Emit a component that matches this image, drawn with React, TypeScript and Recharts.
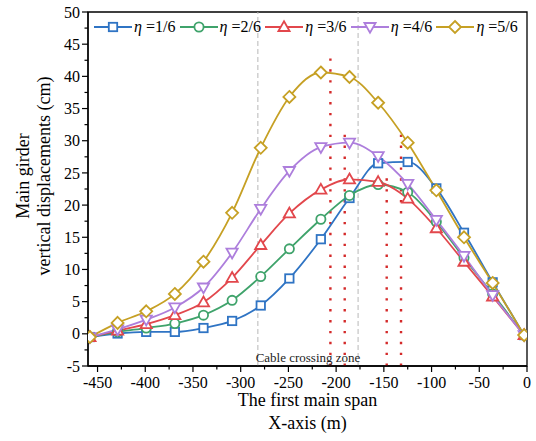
import { LineChart, Line, XAxis, YAxis, ReferenceLine, ReferenceArea, Label } from "recharts"

// distance along the first main span (m)
const xPos = [-458, -429, -399, -369, -339, -309, -279, -249, -216, -186, -156, -125, -95, -66, -36, -3]

// vertical displacement (cm) per cable ratio
const eta1 = [-0.5, 0.05, 0.3, 0.3, 0.9, 2.0, 4.4, 8.6, 14.7, 21.1, 26.5, 26.7, 22.6, 15.7, 8.0, -0.2]
const eta2 = [-0.5, 0.3, 0.9, 1.6, 2.9, 5.2, 8.9, 13.2, 17.8, 21.5, 23.2, 22.0, 17.4, 11.8, 6.2, -0.2]
const eta3 = [-0.5, 0.5, 1.5, 2.9, 4.9, 8.7, 13.8, 18.7, 22.4, 24.0, 23.6, 21.0, 16.4, 11.2, 5.8, -0.2]
const eta4 = [-0.5, 0.7, 2.2, 4.1, 7.2, 12.6, 19.4, 25.3, 29.0, 29.7, 27.6, 23.3, 17.7, 12.1, 6.0, -0.2]
const eta5 = [-0.5, 1.7, 3.5, 6.2, 11.2, 18.8, 28.9, 36.8, 40.6, 39.9, 35.9, 29.7, 22.3, 15.0, 7.9, -0.2]

const seriesNames = ["=1/6", "=2/6", "=3/6", "=4/6", "=5/6"]

// cable crossing zone bounds and peak markers
const zoneBounds = [-282, -177]
const peakX = [-206, -191, -147, -132]
const peakTop = [43.5, 31, 25, 31.2]

const xMajor = [-450, -400, -350, -300, -250, -200, -150, -100, -50, 0]
const yMajor = [-5, 0, 5, 10, 15, 20, 25, 30, 35, 40, 45, 50]

const xTicks = xMajor.flatMap((v, i) => (i < xMajor.length - 1 ? [v, v + 25] : [v]))
const yTicks = yMajor.flatMap((v, i) => (i < yMajor.length - 1 ? [v, v + 2.5] : [v]))

const data = xPos.map((x, i) => ({ x, e1: eta1[i], e2: eta2[i], e3: eta3[i], e4: eta4[i], e5: eta5[i] }))

const FONT = "'Liberation Serif', 'Times New Roman', serif"

const series = [
  { key: "e1", color: "#2F74C4", shape: "square" },
  { key: "e2", color: "#3FA36B", shape: "circle" },
  { key: "e3", color: "#E2474C", shape: "up" },
  { key: "e4", color: "#AD7EDC", shape: "down" },
  { key: "e5", color: "#C6A024", shape: "diamond" },
]

function markerShape(shape: string, cx: number, cy: number, color: string, key?: any) {
  const common = { fill: "#fff", stroke: color, strokeWidth: 1.8 }
  if (shape === "square") return <rect key={key} x={cx - 4.2} y={cy - 4.2} width={8.4} height={8.4} {...common} />
  if (shape === "circle") return <circle key={key} cx={cx} cy={cy} r={4.6} {...common} />
  if (shape === "up")
    return <polygon key={key} points={`${cx},${cy - 5.8} ${cx + 5.6},${cy + 4} ${cx - 5.6},${cy + 4}`} {...common} />
  if (shape === "down")
    return <polygon key={key} points={`${cx - 5.6},${cy - 4} ${cx + 5.6},${cy - 4} ${cx},${cy + 5.8}`} {...common} />
  return <polygon key={key} points={`${cx},${cy - 6} ${cx + 6},${cy} ${cx},${cy + 6} ${cx - 6},${cy}`} {...common} />
}

const YTick = (props: any) => {
  const { x, y, payload } = props
  const major = yMajor.includes(payload.value)
  return (
    <g>
      <line x1={x} x2={x - (major ? 6 : 3.5)} y1={y} y2={y} stroke="#000" strokeWidth={1.2} />
      {major && (
        <text x={x - 8} y={y} dy="0.35em" textAnchor="end" fontFamily={FONT} fontSize={16} fill="#000">
          {payload.value}
        </text>
      )}
    </g>
  )
}

const XTick = (props: any) => {
  const { x, y, payload } = props
  const major = xMajor.includes(payload.value)
  return (
    <g>
      <line x1={x} x2={x} y1={y} y2={y + (major ? 6 : 3.5)} stroke="#000" strokeWidth={1.2} />
      {major && (
        <text x={x} y={y + 22} textAnchor="middle" fontFamily={FONT} fontSize={16} fill="#000">
          {payload.value}
        </text>
      )}
    </g>
  )
}

const XTitle = (props: any) => {
  const { viewBox } = props
  const cx = viewBox.x + viewBox.width / 2
  return (
    <g fontFamily={FONT} fontSize={18} fill="#000">
      <text x={cx} y={viewBox.y + 40} textAnchor="middle">The first main span</text>
      <text x={cx} y={viewBox.y + 63} textAnchor="middle">X-axis (m)</text>
    </g>
  )
}

const YTitle = () => {
  const cy = 176
  return (
    <g fontFamily={FONT} fontSize={18} fill="#000">
      <text x={29} y={cy} textAnchor="middle" transform={`rotate(-90 29 ${cy})`}>Main girder</text>
      <text x={50} y={cy} textAnchor="middle" transform={`rotate(-90 50 ${cy})`}>vertical displacements (cm)</text>
    </g>
  )
}

function LegendRow() {
  return (
    <div
      style={{
        position: "absolute",
        left: 88,
        top: 13,
        width: 439,
        height: 30,
        fontFamily: FONT,
        fontSize: 16,
      }}
    >
      {series.map((s, i) => (
        <div key={s.key} style={{ position: "absolute", left: 6 + i * 85.6, top: 5, display: "flex", alignItems: "center" }}>
          <svg width={38} height={18}>
            <line x1={0} x2={38} y1={9} y2={9} stroke={s.color} strokeWidth={1.8} />
            {markerShape(s.shape, 19, 9, s.color)}
          </svg>
          <span style={{ marginLeft: 2, whiteSpace: "nowrap" }}>
            <i>η</i> {seriesNames[i]}
          </span>
        </div>
      ))}
    </div>
  )
}

export default function App() {
  return (
    <div style={{ position: "absolute", left: 0, top: 0, width: 536, height: 441, background: "#fff" }}>
      <LineChart width={536} height={441} data={data} margin={{ top: 12, right: 9, bottom: 0, left: 0 }}>
        <XAxis
          dataKey="x"
          type="number"
          domain={[-460, 0]}
          ticks={xTicks}
          interval={0}
          height={75}
          tickSize={0}
          tickMargin={0}
          tickLine={false}
          tick={<XTick />}
          axisLine={{ stroke: "#000", strokeWidth: 1.3 }}
          allowDataOverflow
        >
          <Label content={<XTitle />} />
        </XAxis>
        <YAxis
          type="number"
          domain={[-5, 50]}
          ticks={yTicks}
          interval={0}
          width={88}
          tickSize={0}
          tickMargin={0}
          tickLine={false}
          tick={<YTick />}
          axisLine={{ stroke: "#000", strokeWidth: 1.3 }}
          allowDataOverflow
        >
          <Label content={<YTitle />} />
        </YAxis>
        <ReferenceArea x1={-460} x2={0} y1={-5} y2={50} fill="none" stroke="#000" strokeWidth={1.3} />
        {zoneBounds.map((x) => (
          <ReferenceLine key={"z" + x} x={x} stroke="#b8b8b8" strokeWidth={1} strokeDasharray="5 3" />
        ))}
        {peakX.map((x, i) => (
          <ReferenceLine
            key={"p" + x}
            segment={[
              { x, y: -5 },
              { x, y: peakTop[i] },
            ]}
            stroke="#D42A2A"
            strokeWidth={2.4}
            strokeDasharray="2.4 8.5"
          />
        ))}
        <ReferenceLine
          segment={[
            { x: zoneBounds[0], y: -3.6 },
            { x: zoneBounds[1], y: -3.6 },
          ]}
          stroke="none"
          label={{ value: "Cable crossing zone", position: "center", fontFamily: FONT, fontSize: 13, fill: "#222" }}
        />
        {series.map((s) => (
          <Line
            key={s.key}
            dataKey={s.key}
            type="monotone"
            stroke={s.color}
            strokeWidth={1.8}
            isAnimationActive={false}
            dot={(p: any) => markerShape(s.shape, p.cx, p.cy, s.color, p.index)}
            activeDot={false}
          />
        ))}
      </LineChart>
      <LegendRow />
    </div>
  )
}
